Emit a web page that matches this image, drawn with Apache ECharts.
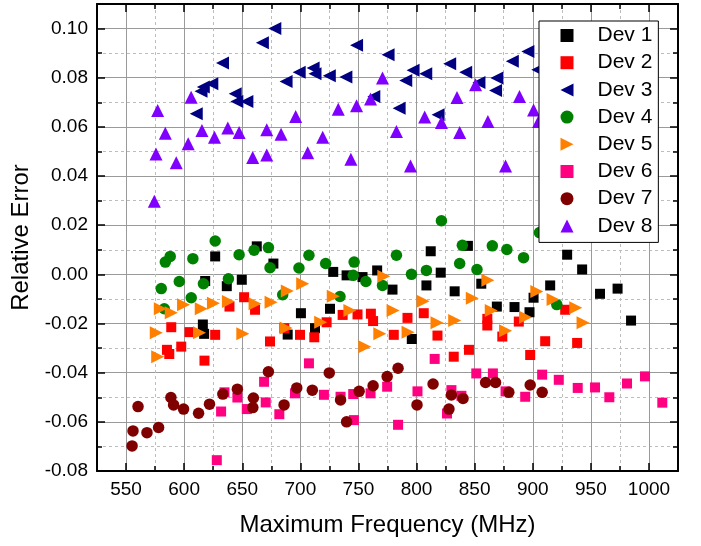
<!DOCTYPE html>
<html>
<head>
<meta charset="utf-8">
<script src="https://cdn.jsdelivr.net/npm/echarts@6/dist/echarts.min.js"></script>
<style>
html,body{margin:0;padding:0;background:#fff;}
#chart{width:701px;height:546px;}
</style>
</head>
<body>
<div id="chart"></div>
<script>
// ---- data (x: MHz, y: relative error) ----
const seriesNames = ['Dev 1','Dev 2','Dev 3','Dev 4','Dev 5','Dev 6','Dev 7','Dev 8'];

const dev1 = [[626.7,0.0073],[662.5,0.0114],[676.8,0.0044],[618.1,-0.0027],[636.7,-0.0048],[649.6,-0.0022],[616.1,-0.0204],[617.2,-0.0242],[700.5,-0.0158],[712.6,-0.0219],[689.1,-0.0245],[728.3,0.0010],[739.8,-0.0004],[725.5,-0.0140],[753.5,-0.0011],[766.1,0.0016],[779.3,-0.0062],[812.2,0.0094],[844.2,0.0116],[808.5,-0.0045],[820.8,0.0007],[832.8,-0.0069],[855.7,-0.0038],[795.9,-0.0263],[869.1,-0.0131],[884.3,-0.0133],[897.2,-0.0154],[900.7,-0.0095],[915,-0.0045],[929.6,0.0080],[942.5,0.0020],[957.9,-0.0079],[973,-0.0058],[984.6,-0.0188]];

const dev2 = [[651.6,-0.0093],[639,-0.0131],[661,-0.0144],[588.9,-0.0215],[604.6,-0.0235],[626.7,-0.0246],[585.2,-0.0307],[587.2,-0.0324],[597.5,-0.0294],[617.5,-0.0351],[673.9,-0.0273],[686.2,-0.0219],[699.7,-0.0246],[712,-0.0256],[722.6,-0.0195],[736.4,-0.0165],[749.2,-0.0163],[760.7,-0.0160],[762.6,-0.0190],[780.4,-0.0246],[792.2,-0.0177],[806.2,-0.0158],[818,-0.0249],[832,-0.0335],[845.1,-0.0307],[860.9,-0.0181],[860.9,-0.0208],[873.8,-0.0253],[888,-0.0192],[897.8,-0.0328],[910.7,-0.0272],[927.9,-0.0144],[938.2,-0.0279]];

const dev3 = [[678,0.1000],[667.3,0.0942],[633,0.0860],[623.8,0.0776],[616.5,0.0762],[614.5,0.0745],[610.4,0.0653],[643.9,0.0735],[645.3,0.0703],[654,0.0703],[687.7,0.0785],[699,0.0822],[711,0.0840],[712.6,0.0816],[724.9,0.0808],[739.2,0.0803],[748.4,0.0932],[775.5,0.0894],[763.2,0.0724],[785,0.0676],[790.7,0.0789],[797,0.0830],[807.9,0.0816],[818.5,0.0649],[828.5,0.0857],[842.3,0.0822],[853.7,0.0781],[869.1,0.0799],[868,0.0748],[882.4,0.0867],[895.8,0.0907],[904.3,0.0833]];

const dev4 = [[626.7,0.0136],[583.8,0.0050],[588,0.0073],[607.5,0.0064],[580.3,-0.0058],[595.8,-0.0029],[606.1,-0.0095],[616.6,-0.0038],[638.1,-0.0018],[647.3,0.0080],[660.2,0.0098],[672.5,0.0109],[673.9,0.0027],[684.8,-0.0083],[698.8,0.0026],[707.4,0.0078],[721.8,0.0044],[734.1,-0.0090],[746.3,0.0050],[745.5,-0.0004],[756.4,-0.0029],[770.7,-0.0045],[782.7,0.0078],[582.9,-0.0140],[821.4,0.0218],[795.6,0.0000],[808.5,0.0016],[839.4,0.0118],[837.1,0.0044],[852,0.0020],[865.2,0.0116],[877.7,0.0101],[892.1,0.0068],[905.8,0.0170],[920.7,-0.0123]];

const dev5 = [[579.5,-0.0140],[588.9,-0.0156],[599.5,-0.0124],[614.7,-0.0140],[625.2,-0.0117],[638.1,-0.0110],[661,-0.0120],[674.8,-0.0113],[688.8,-0.0068],[702,-0.0038],[728.3,-0.0089],[742.6,-0.0147],[771.8,-0.0008],[576,-0.0238],[613.2,-0.0238],[650.5,-0.0242],[687.7,-0.0218],[717.5,-0.0195],[577.2,-0.0335],[755.5,-0.0294],[768.4,-0.0242],[779.8,-0.0147],[792.7,-0.0236],[805.6,-0.0109],[817.6,-0.0197],[832.8,-0.0188],[848,-0.0097],[861.4,-0.0024],[864.3,-0.0147],[876.6,-0.0229],[893.8,-0.0174],[903.5,-0.0070],[917.5,-0.0102],[937,-0.0136],[943.3,-0.0197]];

const dev6 = [[628.1,-0.0756],[631.8,-0.0558],[634.7,-0.0480],[645.8,-0.0501],[653.9,-0.0548],[668.8,-0.0437],[670.2,-0.0521],[681.9,-0.0569],[695.4,-0.0484],[707.4,-0.0362],[720.3,-0.0490],[734.6,-0.0498],[745.5,-0.0487],[746.1,-0.0593],[760.4,-0.0484],[774.7,-0.0457],[784.1,-0.0612],[815.6,-0.0344],[800.8,-0.0476],[826.2,-0.0566],[830,-0.0471],[838.6,-0.0494],[851.4,-0.0403],[865.7,-0.0403],[876.6,-0.0476],[893.5,-0.0498],[908.1,-0.0408],[922.4,-0.0429],[938.7,-0.0462],[953.6,-0.0460],[965.9,-0.0500],[981.1,-0.0444],[996.6,-0.0415],[1011.5,-0.0522]];

const dev7 = [[555.2,-0.0698],[556,-0.0637],[560.3,-0.0538],[568,-0.0644],[578,-0.0623],[588.6,-0.0501],[590.9,-0.0531],[599.5,-0.0548],[612.4,-0.0565],[621.8,-0.0528],[633.3,-0.0487],[645.8,-0.0467],[659.6,-0.0503],[659.1,-0.0542],[672.5,-0.0396],[686,-0.0531],[696.9,-0.0462],[710.3,-0.0471],[724.9,-0.0401],[734.6,-0.0511],[739.8,-0.0600],[750.6,-0.0476],[762.6,-0.0453],[774.7,-0.0416],[784.1,-0.0382],[800.4,-0.0531],[814.2,-0.0446],[827.9,-0.0548],[830,-0.0491],[840,-0.0505],[859.4,-0.0440],[868,-0.0440],[879.4,-0.0480],[897.8,-0.0450],[908.1,-0.0480]];

const dev8 = [[577.2,0.0667],[583.8,0.0574],[575.8,0.0490],[593.2,0.0454],[574.3,0.0297],[606,0.0721],[603.5,0.0531],[615.3,0.0585],[626.1,0.0558],[637.6,0.0595],[647.3,0.0577],[659,0.0475],[671.1,0.0588],[671.1,0.0486],[683.4,0.0570],[696,0.0642],[706.3,0.0495],[719.2,0.0558],[732.6,0.0672],[748.4,0.0686],[743.5,0.0468],[760.4,0.0713],[770.7,0.0799],[782.7,0.0581],[794.8,0.0441],[807,0.0640],[821.4,0.0618],[834.8,0.0720],[837.1,0.0577],[850.8,0.0771],[861.4,0.0622],[876.6,0.0441],[888.6,0.0724],[900.7,0.0669],[905,0.0622]];

// ---- axis ticks ----
const xMajorTicks = [550,600,650,700,750,800,850,900,950,1000];
const xMinorTicks = [575,625,675,725,775,825,875,925,975];
const yMajorTicks = [-0.08,-0.06,-0.04,-0.02,0,0.02,0.04,0.06,0.08,0.10];
const yMinorTicks = [-0.07,-0.05,-0.03,-0.01,0.01,0.03,0.05,0.07,0.09];

// ---- styles ----
const FONT = '"Liberation Sans", Arial, Helvetica, sans-serif';
const colors = ['#000000','#ff0000','#000080','#008000','#ff8000','#ff0080','#800000','#8000ff'];
const TRI_LEFT = 'path://M0,50 L100,0 L100,100 Z';
const TRI_RIGHT = 'path://M0,0 L100,50 L0,100 Z';
const symbols = ['rect','rect',TRI_LEFT,'circle',TRI_RIGHT,'rect','circle','triangle'];
const sizes = [10,10,13,11.5,13,10,11.5,13];
const allData = [dev1,dev2,dev3,dev4,dev5,dev6,dev7,dev8];

const X_MIN = 525, X_MAX = 1025, Y_MIN = -0.08, Y_MAX = 0.11;

function xAxisDef(grid, pos, major) {
  return {
    type:'value', gridIndex:grid, position:pos, min:X_MIN, max:X_MAX,
    axisLine:{show:major, onZero:false, lineStyle:{color:'#000', width:2}},
    axisTick:{show:true, inside:true, length: major?8:5, customValues: major?xMajorTicks:xMinorTicks,
      lineStyle:{color:'#000', width:1.5}},
    axisLabel:{show: major && pos==='bottom', customValues:xMajorTicks, color:'#000', fontSize:19, fontFamily:FONT, margin:9,
      formatter: v => String(Math.round(v))},
    splitLine:{show: pos==='bottom', lineStyle: major ? {color:'#9a9a9a', width:1, type:'solid'} : {color:'#bdbdbd', width:1, type:[3,3]}},
    name: (major && pos==='bottom') ? 'Maximum Frequency (MHz)' : '',
    nameLocation:'middle', nameGap:42,
    nameTextStyle:{color:'#000', fontSize:24, fontFamily:FONT}
  };
}
function yAxisDef(grid, pos, major) {
  return {
    type:'value', gridIndex:grid, position:pos, min:Y_MIN, max:Y_MAX,
    axisLine:{show:major, onZero:false, lineStyle:{color:'#000', width:2}},
    axisTick:{show:true, inside:true, length: major?8:5, customValues: major?yMajorTicks:yMinorTicks,
      lineStyle:{color:'#000', width:1.5}},
    axisLabel:{show: major && pos==='left', customValues:yMajorTicks, color:'#000', fontSize:19, fontFamily:FONT, margin:9,
      formatter: v => Number(v).toFixed(2)},
    splitLine:{show: pos==='left', lineStyle: major ? {color:'#9a9a9a', width:1, type:'solid'} : {color:'#bdbdbd', width:1, type:[3,3]}},
    name: (major && pos==='left') ? 'Relative Error' : '',
    nameLocation:'middle', nameGap:54,
    nameTextStyle:{color:'#000', fontSize:24, fontFamily:FONT}
  };
}

const gridBox = {left:97, right:23, top:4, bottom:75};

const option = {
  animation:false,
  backgroundColor:'#fff',
  textStyle:{fontFamily:FONT},
  grid:[Object.assign({}, gridBox), Object.assign({}, gridBox)],
  xAxis:[xAxisDef(0,'bottom',true), xAxisDef(0,'top',true), xAxisDef(1,'bottom',false), xAxisDef(1,'top',false)],
  yAxis:[yAxisDef(0,'left',true), yAxisDef(0,'right',true), yAxisDef(1,'left',false), yAxisDef(1,'right',false)],
  legend:{
    orient:'vertical', left:539, top:21,
    backgroundColor:'#fff', borderColor:'#000', borderWidth:1, borderRadius:0,
    padding:[4,6,6,21.5],
    itemWidth:13, itemHeight:13, itemGap:6.2,
    textStyle:{color:'#000', fontSize:21, fontFamily:FONT, lineHeight:21, padding:[0,0,0,19]},
    data: seriesNames
  },
  series: seriesNames.map((name,i) => ({
    name, type:'scatter', xAxisIndex:0, yAxisIndex:0,
    symbol:symbols[i], symbolSize:sizes[i],
    itemStyle:{color:colors[i], opacity:1},
    emphasis:{disabled:true},
    data: allData[i]
  }))
};

const chart = echarts.init(document.getElementById('chart'), null, {renderer:'canvas'});
chart.setOption(option);
</script>
</body>
</html>
